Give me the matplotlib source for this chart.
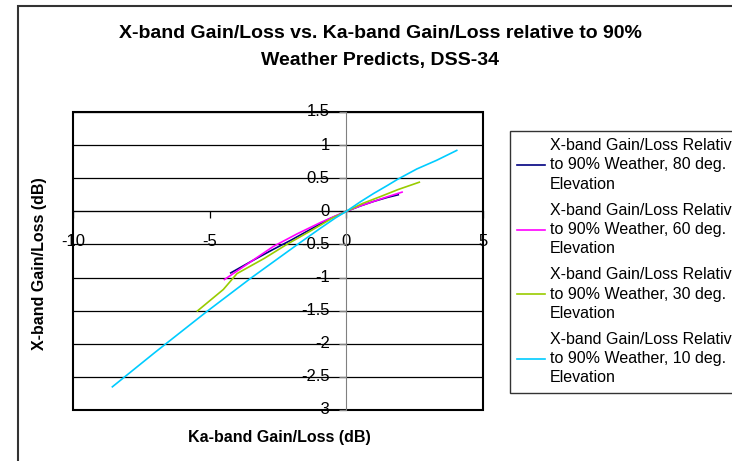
import matplotlib
matplotlib.use("Agg")
import matplotlib.pyplot as plt
from matplotlib.patches import Rectangle

plt.rcParams['font.family'] = ['Liberation Sans', 'DejaVu Sans']
plt.rcParams['axes.unicode_minus'] = False

# Data (Ka-band gain/loss, X-band gain/loss), dB
x80 = [-4.23, -3.5, -2.7, -2.0, -1.3, -0.7, 0.0, 0.5, 1.0, 1.5, 1.9]
y80 = [-0.93, -0.76, -0.58, -0.43, -0.27, -0.13, 0.0, 0.08, 0.15, 0.21, 0.25]

x60 = [-4.46, -3.6, -2.67, -1.8, -0.95, -0.4, 0.0, 0.5, 1.0, 1.5, 2.04]
y60 = [-1.03, -0.79, -0.53, -0.34, -0.17, -0.07, 0.0, 0.08, 0.15, 0.22, 0.29]

x30 = [-5.45, -4.5, -4.0, -3.0, -2.18, -1.2, -0.5, 0.0, 0.6, 1.23, 1.9, 2.67]
y30 = [-1.505, -1.18, -0.94, -0.71, -0.5, -0.27, -0.1, 0.0, 0.12, 0.22, 0.33, 0.44]

x10 = [-8.56, -7.0, -5.11, -3.52, -1.82, -1.0, -0.4, 0.0, 0.5, 1.0, 1.5, 1.86, 2.58, 3.3, 4.04]
y10 = [-2.65, -2.13, -1.515, -1.017, -0.51, -0.27, -0.1, 0.0, 0.14, 0.27, 0.39, 0.48, 0.64, 0.77, 0.92]

labels = [
    "X-band Gain/Loss Relative\nto 90% Weather, 80 deg.\nElevation",
    "X-band Gain/Loss Relative\nto 90% Weather, 60 deg.\nElevation",
    "X-band Gain/Loss Relative\nto 90% Weather, 30 deg.\nElevation",
    "X-band Gain/Loss Relative\nto 90% Weather, 10 deg.\nElevation",
]
colors = ['#000080', '#FF00FF', '#99CC00', '#00CCFF']

xticks = [-10, -5, 0, 5]
yticks = [-3, -2.5, -2, -1.5, -1, -0.5, 0, 0.5, 1, 1.5]
ytick_labels = ['-3', '-2.5', '-2', '-1.5', '-1', '-0.5', '0', '0.5', '1', '1.5']

fig = plt.figure(figsize=(7.32, 4.61), dpi=100)
W, H = 732, 461
ax = fig.add_axes([73 / W, 1 - 410 / H, (483 - 73) / W, (410 - 112) / H])

for xs, ys, c, lab in zip([x80, x60, x30, x10], [y80, y60, y30, y10], colors, labels):
    ax.plot(xs, ys, color=c, lw=1.2, label=lab, zorder=3)

ax.set_xlim(-10, 5)
ax.set_ylim(-3, 1.5)
ax.set_xticks(xticks)
ax.set_yticks(yticks)
ax.set_yticklabels(ytick_labels)

for yv in yticks:
    ax.axhline(yv, color='black', lw=0.9, zorder=1)

ax.spines['left'].set_position(('data', 0))
ax.spines['left'].set_color('#808080')
ax.spines['bottom'].set_position(('data', 0))
ax.spines['bottom'].set_color('black')
ax.spines['top'].set_visible(False)
ax.spines['right'].set_visible(False)
ax.patch.set_edgecolor('black')
ax.patch.set_linewidth(1.5)

ax.tick_params(axis='x', direction='out', length=5, width=0.9, color='black',
               labelsize=12, pad=11)
ax.tick_params(axis='y', direction='out', length=5, width=0.9, color='#808080',
               labelsize=12, pad=7)
for t in ax.get_yticklabels():
    t.set_verticalalignment('center')

fig.text(279 / W, 1 - 437 / H, "Ka-band Gain/Loss (dB)", ha='center', va='center',
         fontsize=11.5, fontweight='bold')
fig.text(40 / W, 1 - 264 / H, "X-band Gain/Loss (dB)", ha='center', va='center',
         rotation=90, fontsize=11.5, fontweight='bold')

fig.text(380 / W, 1 - 33 / H, "X-band Gain/Loss vs. Ka-band Gain/Loss relative to 90%",
         ha='center', va='center', fontsize=14, fontweight='bold')
fig.text(380 / W, 1 - 60 / H, "Weather Predicts, DSS-34",
         ha='center', va='center', fontsize=14, fontweight='bold')

leg = fig.legend(loc='upper left', bbox_to_anchor=(510 / W, 1 - 131 / H),
                 frameon=True, fancybox=False, edgecolor='black', fontsize=11.5,
                 handlelength=1.75, handletextpad=0.3, labelspacing=0.7,
                 borderpad=0.45, borderaxespad=0)
for t in leg.get_texts():
    t.set_linespacing(1.35)
leg.get_frame().set_linewidth(1.0)
for lh in leg.get_lines():
    lh.set_linewidth(1.2)

fig.add_artist(Rectangle((18 / W, -0.1), 1.2, 1 - 6 / H + 0.1, transform=fig.transFigure,
                         fill=False, edgecolor='#333333', lw=1.5))

fig.savefig("out.png", dpi=100)
